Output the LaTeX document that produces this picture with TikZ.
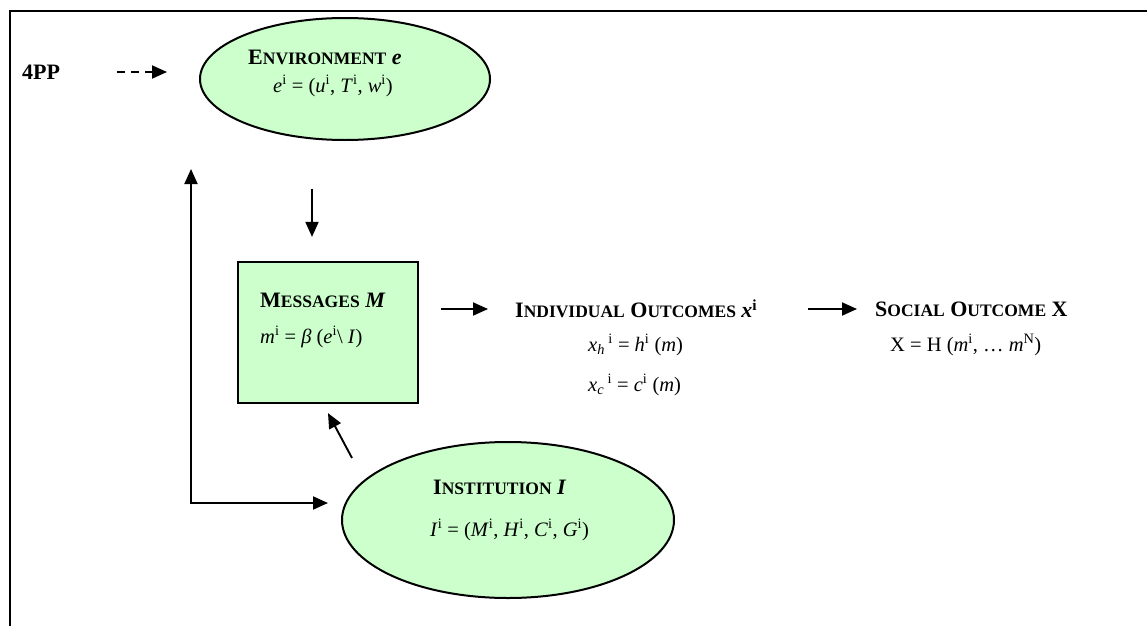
\documentclass[tikz,border=0pt]{standalone}
\usepackage{fontspec}
\setmainfont{Liberation Serif}
\usetikzlibrary{shapes.geometric, arrows.meta, positioning, calc}
\definecolor{boxgreen}{RGB}{204,255,204}
% fake small caps: big initial, smaller capitals
\newcommand{\fsc}[2]{#1{\fontsize{17.5}{20}\selectfont #2}}
\newcommand{\supi}{\textsuperscript{i}}

\begin{document}
\begin{tikzpicture}[
    x=1pt, y=-1pt,
    block/.style={rectangle, draw, line width=2.2pt, fill=boxgreen},
    oval/.style={ellipse, draw, line width=2pt, fill=boxgreen, inner sep=0pt},
    title/.style={font=\fontsize{22}{26}\selectfont\bfseries, inner sep=0pt, anchor=west},
    formula/.style={font=\fontsize{20.5}{24}\selectfont, inner sep=0pt, anchor=west},
    arrow/.style={-{Triangle[length=15pt, width=13pt]}, line width=1.9pt}
]
    \useasboundingbox (0,0) rectangle (1147,626);

    % Frame
    \draw[line width=2.5pt] (10,626) -- (10,11) -- (1147,11);

    % Environment
    \node[title] (pp) at (22,72) {4PP};
    \node[oval, minimum width=290pt, minimum height=122pt] (env) at (345,79) {};
    \node[title] (envtitle) at (248,57) {\fsc{E}{NVIRONMENT} \textit{e}};
    \node[formula] (envform) at (273,86) {\textit{e}\supi{} = (\textit{u}\supi, \textit{T}\supi, \textit{w}\supi)};

    % Messages
    \node[block, minimum width=180pt, minimum height=141pt] (msg) at (328,332.5) {};
    \node[title] (msgtitle) at (260,300) {\fsc{M}{ESSAGES} \textit{M}};
    \node[formula] (msgform) at (260,337) {\textit{m}\supi{} = \textit{β} (\textit{e}\supi\textbackslash{} \textit{I})};

    % Outcomes
    \node[title] (indtitle) at (515,309) {\fsc{I}{NDIVIDUAL} \fsc{O}{UTCOMES} \textit{x}\supi};
    \node[formula] (xhform) at (588,345) {\textit{x}\textsubscript{\textit{h}}\,\supi{} = \textit{h}\supi{} (\textit{m})};
    \node[formula] (xcform) at (588,385) {\textit{x}\textsubscript{\textit{c}}\,\supi{} = \textit{c}\supi{} (\textit{m})};

    \node[title] (soctitle) at (875,309) {\fsc{S}{OCIAL} \fsc{O}{UTCOME} X};
    \node[formula] (socform) at (890,345) {X = H (\textit{m}\supi, … \textit{m}\textsuperscript{N})};

    % Institution
    \node[oval, minimum width=332pt, minimum height=156pt] (inst) at (508,520) {};
    \node[title] (insttitle) at (433,487) {\fsc{I}{NSTITUTION} \textit{I}};
    \node[formula] (instform) at (430,530) {\textit{I}\supi{} = (\textit{M}\supi, \textit{H}\supi, \textit{C}\supi, \textit{G}\supi)};

    % Arrows
    \draw[arrow, dash pattern=on 8pt off 6pt] ([xshift=-82pt]pp.east -| env.west) -- ([xshift=-32pt]pp.east -| env.west);
    \draw[arrow] ([xshift=-16pt, yshift=72pt]msg.north) -- ([xshift=-16pt, yshift=24pt]msg.north);
    \draw[arrow, shorten <=22pt, shorten >=27pt] (msg.east |- indtitle.west) -- (indtitle.west);
    \draw[arrow] ([xshift=-67pt]soctitle.west) -- ([xshift=-18pt]soctitle.west);
    \draw[arrow] ([xshift=-156pt, yshift=62pt]inst.center) -- ([yshift=-9pt]msg.south);

    % Feedback loop
    \coordinate (loop) at (191,503);
    \draw[arrow] ([yshift=-1pt]loop) -- ([yshift=-28pt]loop |- env.south);
    \draw[arrow] (loop) -- ([xshift=-13pt]loop -| inst.west);

\end{tikzpicture}
\end{document}
